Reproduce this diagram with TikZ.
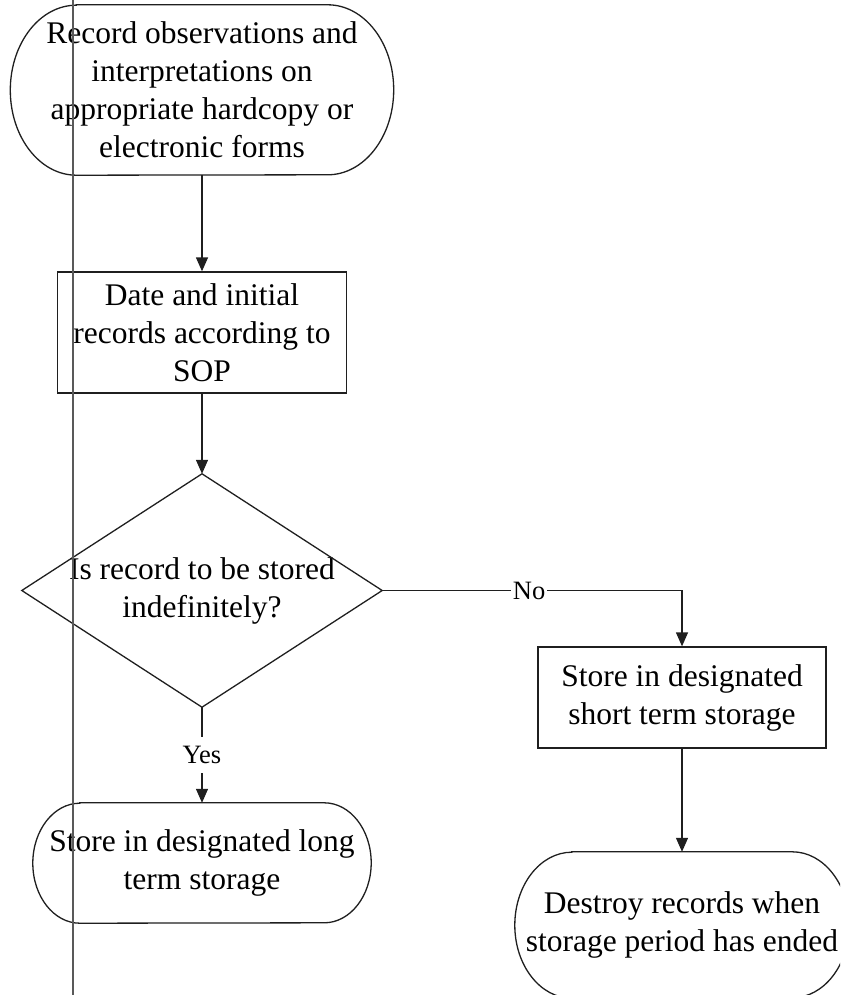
\documentclass[tikz,border=0pt]{standalone}
\usepackage{fontspec}
\setmainfont{Liberation Serif}
\usetikzlibrary{arrows.meta}
\newcommand\termoutline[3]{%
  \draw[shapeline] ([xshift=#2]#1.north west) -- ([xshift=-#2]#1.north east)
    arc[start angle=90,end angle=-90,x radius=#2,y radius=#3]
    -- ([xshift=#2]#1.south west)
    arc[start angle=270,end angle=90,x radius=#2,y radius=#3] -- cycle;}
\begin{document}
\begin{tikzpicture}[x=1pt,y=-1pt,
  shapeline/.style={draw=black!88, line width=1.3pt},
  boxtext/.style={font=\fontsize{31.5}{38}\selectfont, align=center, inner sep=0pt},
  arr/.style={draw=black!88, line width=1.3pt, -{Triangle[width=12pt,length=14pt]}},
  lbl/.style={font=\fontsize{26.5}{30}\selectfont, fill=white, inner xsep=2pt, inner ysep=0pt},
  sideline/.style={draw=black!65, line width=1.2pt}]
\useasboundingbox (0,0) rectangle (840,995);
\clip (0,0) rectangle (840,995);

% nodes
\node[boxtext, minimum width=383pt, minimum height=170pt] (t1) at (202,90)
  {Record observations and\\interpretations on\\appropriate hardcopy or\\electronic forms};
\termoutline{t1}{66pt}{85pt}

\node[boxtext, shapeline, minimum width=289pt, minimum height=121pt] (r1) at (202,332.5)
  {Date and initial\\records according to\\SOP};

\node[boxtext, minimum width=360pt, minimum height=233pt] (d1) at (202,590.5)
  {Is record to be stored\\indefinitely?};
\draw[shapeline] (d1.north) -- (d1.east) -- (d1.south) -- (d1.west) -- cycle;

\node[boxtext, shapeline, minimum width=288pt, minimum height=101pt] (r2) at (682,697.5)
  {Store in designated\\short term storage};

\node[boxtext, minimum width=338pt, minimum height=120pt] (t2) at (202,863)
  {Store in designated long\\term storage};
\termoutline{t2}{47pt}{60pt}

\node[boxtext, minimum width=334pt, minimum height=146pt] (t3) at (682,925)
  {Destroy records when\\storage period has ended};
\termoutline{t3}{57pt}{73pt}

% connectors
\draw[arr] (t1.south) -- (r1.north);
\draw[arr] (r1.south) -- (d1.north);
\draw[arr] (d1.east) -| node[lbl, pos=0.245] {No} (r2.north);
\draw[arr] (d1.south) -- node[lbl, minimum height=36pt] {Yes} (t2.north);
\draw[arr] (r2.south) -- (t3.north);

% vertical side line
\coordinate (vtop) at (73,0);
\coordinate (vbot) at (73,995);
\draw[sideline] (vtop) -- (vbot);
\end{tikzpicture}
\end{document}
